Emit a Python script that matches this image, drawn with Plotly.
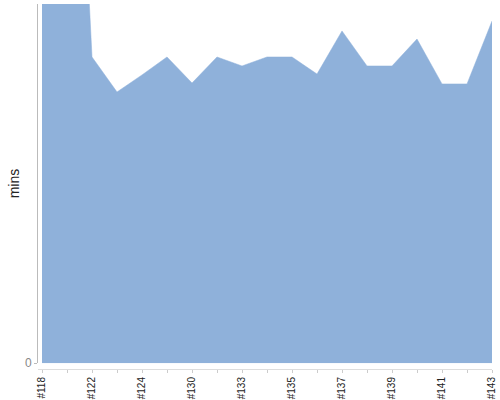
import plotly.graph_objects as go

# run ids along the bottom (only every other one is labelled)
runs = ['#118', '#120', '#122', '#123', '#124', '#127', '#130', '#131', '#133', '#134',
        '#135', '#136', '#137', '#138', '#139', '#140', '#141', '#142', '#143']
shown = ['#118', '#122', '#124', '#130', '#133', '#135', '#137', '#139', '#141', '#143']

# minutes per run (first two go way off the top of the chart)
mins = [70, 90, 34.1, 30.2, 32.1, 34.1, 31.2, 34.1, 33.1, 34.1,
        34.1, 32.2, 37.0, 33.1, 33.1, 36.1, 31.1, 31.1, 38.1]

ymax = 40
fill_col = 'rgb(143,177,218)'

fig = go.Figure()
fig.add_trace(go.Scatter(
    x=runs,
    y=mins,
    mode='lines',
    fill='tozeroy',
    fillcolor=fill_col,
    line=dict(color=fill_col, width=0.5),
    hoverinfo='x+y'
))

ticktext = [r if r in shown else '' for r in runs]

fig.update_layout(
    width=500,
    height=400,
    margin=dict(l=38, r=8, t=4, b=31),
    plot_bgcolor='white',
    paper_bgcolor='white',
    showlegend=False,
    font=dict(family='Liberation Sans, Arial, sans-serif', color='#222222')
)

fig.update_xaxes(
    type='category',
    range=[-0.16, len(runs) - 1],
    tickmode='array',
    tickvals=runs,
    ticktext=ticktext,
    tickangle=-90,
    tickfont=dict(size=10, color='#222222'),
    ticks='outside',
    ticklen=3,
    tickcolor='#cccccc',
    showline=True,
    linecolor='#dddddd',
    linewidth=1,
    showgrid=False,
    zeroline=False,
    anchor='free',
    position=0,
    automargin=False
)

fig.update_yaxes(
    domain=[0.016, 1],
    range=[0, ymax],
    tickmode='array',
    tickvals=[0],
    ticktext=['0'],
    tickfont=dict(size=12, color='#888888'),
    ticks='outside',
    ticklen=3,
    tickcolor='#bbbbbb',
    showline=True,
    linecolor='#bbbbbb',
    linewidth=1,
    showgrid=False,
    zeroline=False,
    automargin=False,
    title=dict(text='mins', font=dict(size=14, color='#222222'), standoff=2)
)

# page has a default 8px body margin, drop it so the chart sits at 0,0
fig.write_html('out.html', config={'displayModeBar': False},
               post_script="document.body.style.margin='0';")
